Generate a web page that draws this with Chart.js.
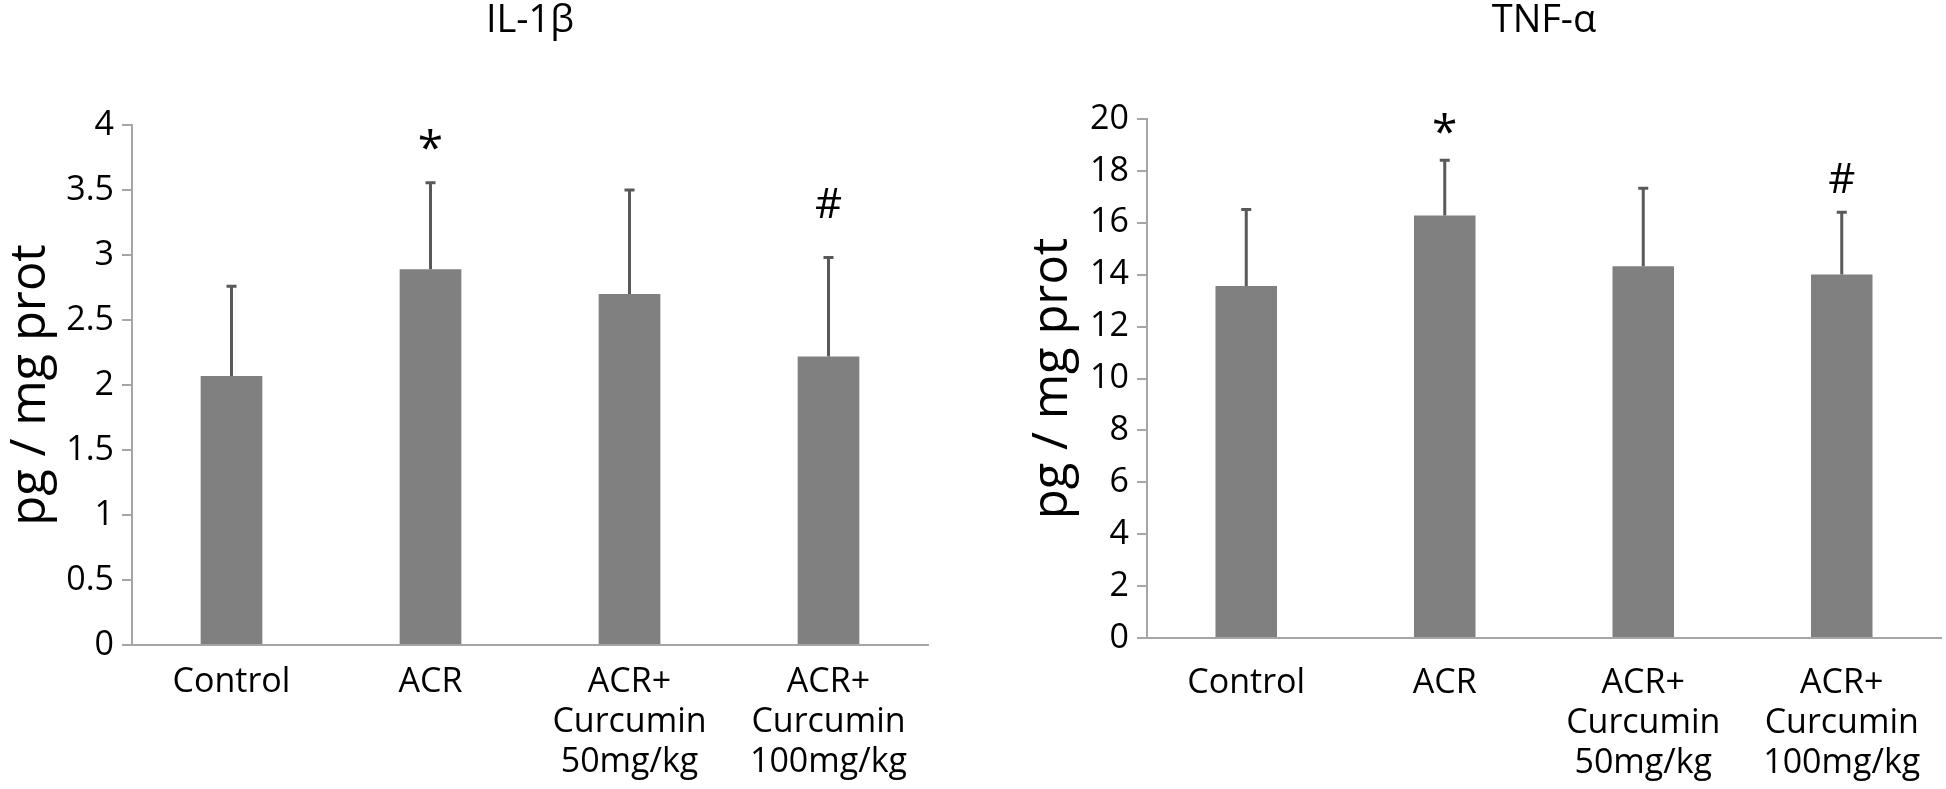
<!DOCTYPE html>
<html>
<head>
<meta charset="utf-8">
<script src="https://cdn.jsdelivr.net/npm/chart.js@4.4.1/dist/chart.umd.min.js"></script>
<style>
  html, body { margin: 0; padding: 0; background: #fff; }
  .box { position: absolute; top: 0; width: 973px; height: 789px; }
  #boxLeft { left: 0; }
  #boxRight { left: 973px; }
</style>
</head>
<body>
<div class="box" id="boxLeft"><canvas id="chartIL"></canvas></div>
<div class="box" id="boxRight"><canvas id="chartTNF"></canvas></div>
<script>
const grupos = ["Control", "ACR", ["ACR+", "Curcumin", "50mg/kg"], ["ACR+", "Curcumin", "100mg/kg"]];

// IL-1β
const il1bMedia = [2.07, 2.89, 2.70, 2.22];
const il1bDesvio = [0.69, 0.665, 0.80, 0.76];
const il1bMarcas = ["", "*", "", "#"];
const il1bMarcaPos = [null, 3.80, null, 3.38];
const il1bTicks = [0, 0.5, 1, 1.5, 2, 2.5, 3, 3.5, 4];

// TNF-α
const tnfMedia = [13.56, 16.28, 14.33, 14.01];
const tnfDesvio = [2.95, 2.13, 3.00, 2.40];
const tnfMarcas = ["", "*", "", "#"];
const tnfMarcaPos = [null, 19.4, null, 17.6];
const tnfTicks = [0, 2, 4, 6, 8, 10, 12, 14, 16, 18, 20];

const fonte = "'Open Sans', 'Noto Sans', sans-serif";
const cinzaEixo = "#a6a6a6";

// barras de erro + asteriscos
const errorBars = {
    id: "errorBars",
    afterDatasetsDraw(chart, args, opts) {
        const { ctx, scales: { x, y } } = chart;
        ctx.save();
        ctx.strokeStyle = "#595959";
        ctx.lineWidth = 3;
        opts.media.forEach((m, i) => {
            const px = x.getPixelForValue(i);
            const yBase = y.getPixelForValue(m);
            const yTop = y.getPixelForValue(m + opts.desvio[i]);
            ctx.beginPath();
            ctx.moveTo(px, yBase);
            ctx.lineTo(px, yTop);
            ctx.moveTo(px - 5, yTop);
            ctx.lineTo(px + 5, yTop);
            ctx.stroke();
        });
        ctx.fillStyle = "#000";
        ctx.textAlign = "center";
        ctx.textBaseline = "middle";
        opts.marcas.forEach((t, i) => {
            if (!t) return;
            ctx.font = (t === "*" ? "46px " : "42px ") + fonte;
            ctx.fillText(t, x.getPixelForValue(i), y.getPixelForValue(opts.marcaPos[i]));
        });
        ctx.restore();
    }
};

function montar(id, titulo, media, desvio, marcas, marcaPos, ticks, lay) {
    new Chart(document.getElementById(id), {
        type: "bar",
        data: {
            labels: grupos,
            datasets: [{
                data: media,
                backgroundColor: "#808080",
                barPercentage: 0.62,
                categoryPercentage: 0.5
            }]
        },
        options: {
            responsive: true,
            maintainAspectRatio: false,
            animation: false,
            layout: { padding: { left: lay.padLeft, right: lay.padRight, top: 0, bottom: 0 } },
            plugins: {
                legend: { display: false },
                tooltip: { enabled: false },
                title: {
                    display: true,
                    text: titulo,
                    fullSize: false,
                    color: "#000",
                    font: { family: fonte, size: 38, weight: "normal", lineHeight: 1.1 },
                    padding: { top: 0, bottom: lay.titleBottom }
                },
                errorBars: { media, desvio, marcas, marcaPos }
            },
            scales: {
                x: {
                    grid: { display: false, drawTicks: false },
                    border: { display: true, color: cinzaEixo, width: 2 },
                    ticks: { color: "#000", padding: lay.xPad, maxRotation: 0, autoSkip: false,
                        font: { family: fonte, size: 34, lineHeight: 1.18 } },
                    afterFit: s => { s.height = lay.xHeight; }
                },
                y: {
                    min: 0,
                    max: ticks[ticks.length - 1],
                    afterBuildTicks: s => { s.ticks = ticks.map(v => ({ value: v })); },
                    grid: { display: true, drawOnChartArea: false, drawTicks: true, tickLength: 10, color: cinzaEixo, lineWidth: 2 },
                    border: { display: true, color: cinzaEixo, width: 2 },
                    ticks: { color: "#000", padding: 8, font: { family: fonte, size: 34 },
                        callback: v => String(v) },
                    title: {
                        display: true,
                        text: "pg / mg prot",
                        color: "#000",
                        font: { family: fonte, size: 49, lineHeight: 1.25 },
                        padding: 0
                    },
                    afterFit: s => { s.width = lay.yWidth; }
                }
            }
        },
        plugins: [errorBars]
    });
}

montar("chartIL", "IL-1β", il1bMedia, il1bDesvio, il1bMarcas, il1bMarcaPos, il1bTicks,
    { padLeft: 0, padRight: 45, yWidth: 132, xHeight: 144, xPad: 17, titleBottom: 83.2 });
montar("chartTNF", "TNF-α", tnfMedia, tnfDesvio, tnfMarcas, tnfMarcaPos, tnfTicks,
    { padLeft: 49, padRight: 5, yWidth: 125, xHeight: 151, xPad: 25, titleBottom: 77.2 });
</script>
</body>
</html>
